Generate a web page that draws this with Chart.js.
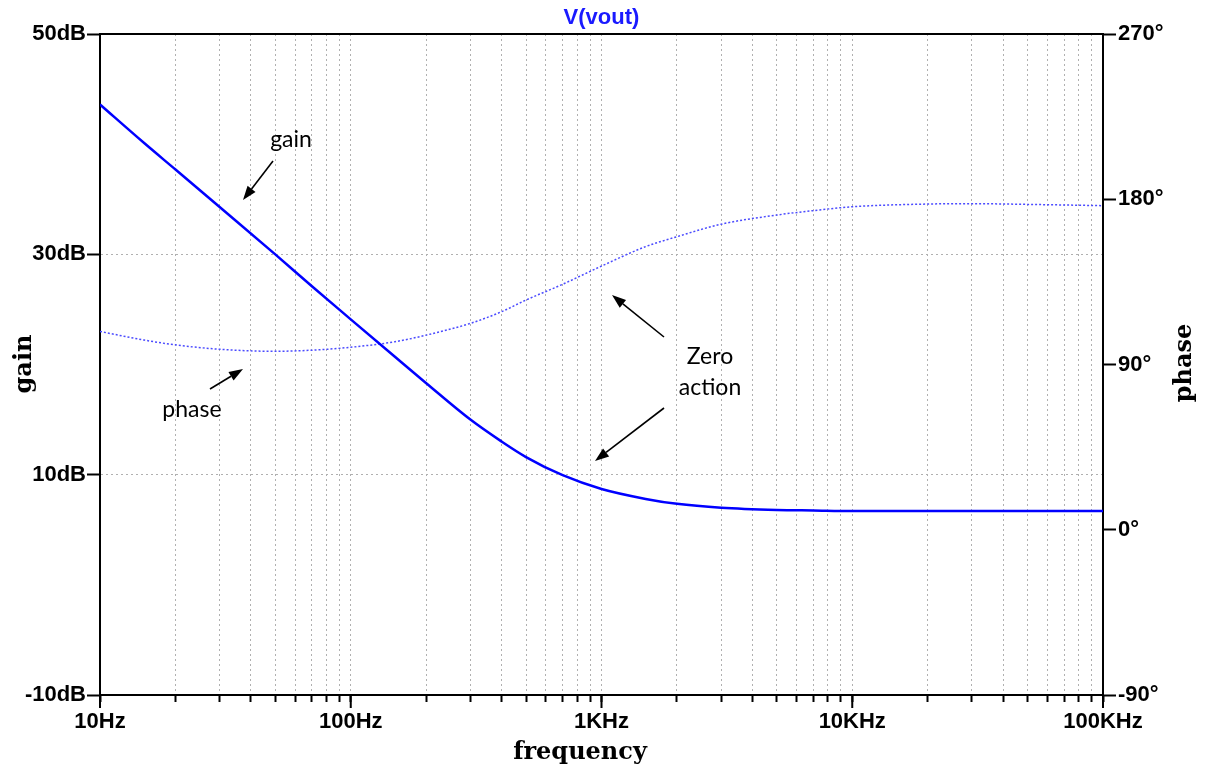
<!DOCTYPE html>
<html>
<head>
<meta charset="utf-8">
<title>V(vout)</title>
<script src="https://cdn.jsdelivr.net/npm/chart.js@4.4.1/dist/chart.umd.min.js"></script>
<style>
  html, body { margin: 0; padding: 0; background: #fff; }
  #wrap { width: 1209px; height: 772px; position: relative; }
</style>
</head>
<body>
<div id="wrap"><canvas id="bode"></canvas></div>
<script>
// frequencies (Hz)
const freqs = [10, 15, 20, 30, 50, 70, 100, 150, 200, 300, 400, 500, 700,
  1000, 1500, 2000, 3000, 5000, 7000, 10000, 20000, 30000, 50000, 100000];
// gain in dB (solid line, left axis)
const gainDb = [43.6, 40.1, 37.7, 34.3, 30.0, 27.1, 24.1, 20.7, 18.3, 15.0, 13.0, 11.6, 9.95,
  8.7, 7.8, 7.35, 7.0, 6.8, 6.75, 6.7, 6.7, 6.7, 6.7, 6.7];
// phase in degrees (dotted line, right axis)
const phaseDeg = [108.0, 103.3, 100.7, 98.3, 97.2, 97.8, 99.4, 102.4, 106.0, 112.4, 118.8, 125.1, 133.7,
  143.6, 154.2, 159.6, 166.4, 171.4, 173.8, 175.9, 177.4, 177.6, 177.2, 176.5];

// axis ticks
const xMajorTicks = [10, 100, 1000, 10000, 100000];
const xMajorLabels = ["10Hz", "100Hz", "1KHz", "10KHz", "100KHz"];
const gainTicks = [-10, 10, 30, 50];
const gainLabels = ["-10dB", "10dB", "30dB", "50dB"];
const phaseTicks = [-90, 0, 90, 180, 270];
const phaseLabels = ["-90°", "0°", "90°", "180°", "270°"];

// every 1..9 step inside each decade gets a grid line
const xAllTicks = [];
for (let d = 10; d < 100000; d *= 10) {
  for (let m = 1; m < 10; m++) xAllTicks.push(d * m);
}
xAllTicks.push(100000);

const tickFont = { family: "'Liberation Sans', Arial, sans-serif", size: 22, weight: "bold" };
const gridGrey = "#b0b0b0";

// top frame, long decade ticks, titles and the hand-drawn notes
const overlay = {
  id: "overlay",
  afterDraw(chart) {
    const { ctx, chartArea: a, scales } = chart;
    ctx.save();
    ctx.strokeStyle = "#000";
    ctx.lineWidth = 2;
    ctx.beginPath();
    ctx.moveTo(a.left - 1, a.top);
    ctx.lineTo(a.right + 1, a.top);
    xMajorTicks.forEach(v => {
      const x = scales.x.getPixelForValue(v);
      ctx.moveTo(x, a.bottom);
      ctx.lineTo(x, a.bottom + 13);
    });
    ctx.stroke();

    // title
    ctx.fillStyle = "#1a1aff";
    ctx.font = "bold 22px 'Liberation Sans', Arial, sans-serif";
    ctx.textAlign = "center";
    ctx.textBaseline = "middle";
    ctx.fillText("V(vout)", (a.left + a.right) / 2, 18);

    // axis titles
    ctx.fillStyle = "#000";
    ctx.font = "bold 24px 'DejaVu Serif', serif";
    ctx.textBaseline = "alphabetic";
    ctx.fillText("frequency", 580, 759);
    ctx.save();
    ctx.translate(31, 364);
    ctx.rotate(-Math.PI / 2);
    ctx.fillText("gain", 0, 0);
    ctx.restore();
    ctx.save();
    ctx.translate(1191, 363);
    ctx.rotate(-Math.PI / 2);
    ctx.fillText("phase", 0, 0);
    ctx.restore();

    // notes
    ctx.font = "23px Lato, 'Open Sans', sans-serif";
    ctx.textBaseline = "middle";
    ctx.fillText("gain", 291, 140);
    ctx.fillText("phase", 192, 410);
    ctx.fillText("Zero", 710, 357);
    ctx.fillText("action", 710, 388);

    function arrow(x1, y1, x2, y2) {
      const ang = Math.atan2(y2 - y1, x2 - x1);
      const len = 14, half = 5;
      const bx = x2 - len * Math.cos(ang), by = y2 - len * Math.sin(ang);
      ctx.lineWidth = 1.6;
      ctx.beginPath();
      ctx.moveTo(x1, y1);
      ctx.lineTo(bx, by);
      ctx.stroke();
      ctx.beginPath();
      ctx.moveTo(x2, y2);
      ctx.lineTo(bx + half * Math.sin(ang), by - half * Math.cos(ang));
      ctx.lineTo(bx - half * Math.sin(ang), by + half * Math.cos(ang));
      ctx.closePath();
      ctx.fill();
    }
    arrow(273, 161, 243, 200);
    arrow(210, 389, 243, 369);
    arrow(664, 337, 612, 295);
    arrow(664, 408, 595, 461);
    ctx.restore();
  }
};

const ctx = document.getElementById("bode").getContext("2d");
new Chart(ctx, {
  type: "line",
  data: {
    datasets: [
      {
        label: "gain",
        data: freqs.map((f, i) => ({ x: f, y: gainDb[i] })),
        yAxisID: "y",
        borderColor: "#0000ff",
        borderWidth: 2.5,
        pointRadius: 0,
        cubicInterpolationMode: "monotone"
      },
      {
        label: "phase",
        data: freqs.map((f, i) => ({ x: f, y: phaseDeg[i] })),
        yAxisID: "y1",
        borderColor: "#4b4bff",
        borderWidth: 1.5,
        borderDash: [2, 2],
        pointRadius: 0,
        cubicInterpolationMode: "monotone"
      }
    ]
  },
  options: {
    responsive: true,
    maintainAspectRatio: false,
    animation: false,
    layout: { padding: { top: 34, left: 0, right: 0, bottom: 0 } },
    plugins: {
      legend: { display: false },
      tooltip: { enabled: false }
    },
    scales: {
      x: {
        type: "logarithmic",
        min: 10,
        max: 100000,
        afterBuildTicks: s => { s.ticks = xAllTicks.map(v => ({ value: v })); },
        afterFit: s => { s.height = 77; },
        ticks: {
          autoSkip: false,
          maxRotation: 0,
          padding: 7,
          color: "#000",
          font: tickFont,
          callback: v => {
            const i = xMajorTicks.indexOf(v);
            return i >= 0 ? xMajorLabels[i] : "";
          }
        },
        grid: { color: gridGrey, tickColor: "#000", tickWidth: 2, tickLength: 7 },
        border: { color: "#000", width: 2, dash: [2, 3] }
      },
      y: {
        position: "left",
        min: -10,
        max: 50,
        afterBuildTicks: s => { s.ticks = gainTicks.map(v => ({ value: v })); },
        afterFit: s => { s.width = 100; },
        ticks: {
          padding: 1,
          color: "#000",
          font: tickFont,
          callback: v => gainLabels[gainTicks.indexOf(v)]
        },
        grid: { color: gridGrey, tickColor: "#000", tickWidth: 2, tickLength: 13 },
        border: { color: "#000", width: 2, dash: [2, 3] }
      },
      y1: {
        position: "right",
        min: -90,
        max: 270,
        afterBuildTicks: s => { s.ticks = phaseTicks.map(v => ({ value: v })); },
        afterFit: s => { s.width = 106; },
        ticks: {
          padding: 2,
          color: "#000",
          font: tickFont,
          callback: v => phaseLabels[phaseTicks.indexOf(v)]
        },
        grid: { drawOnChartArea: false, tickColor: "#000", tickWidth: 2, tickLength: 13 },
        border: { color: "#000", width: 2 }
      }
    }
  },
  plugins: [overlay]
});
</script>
</body>
</html>
